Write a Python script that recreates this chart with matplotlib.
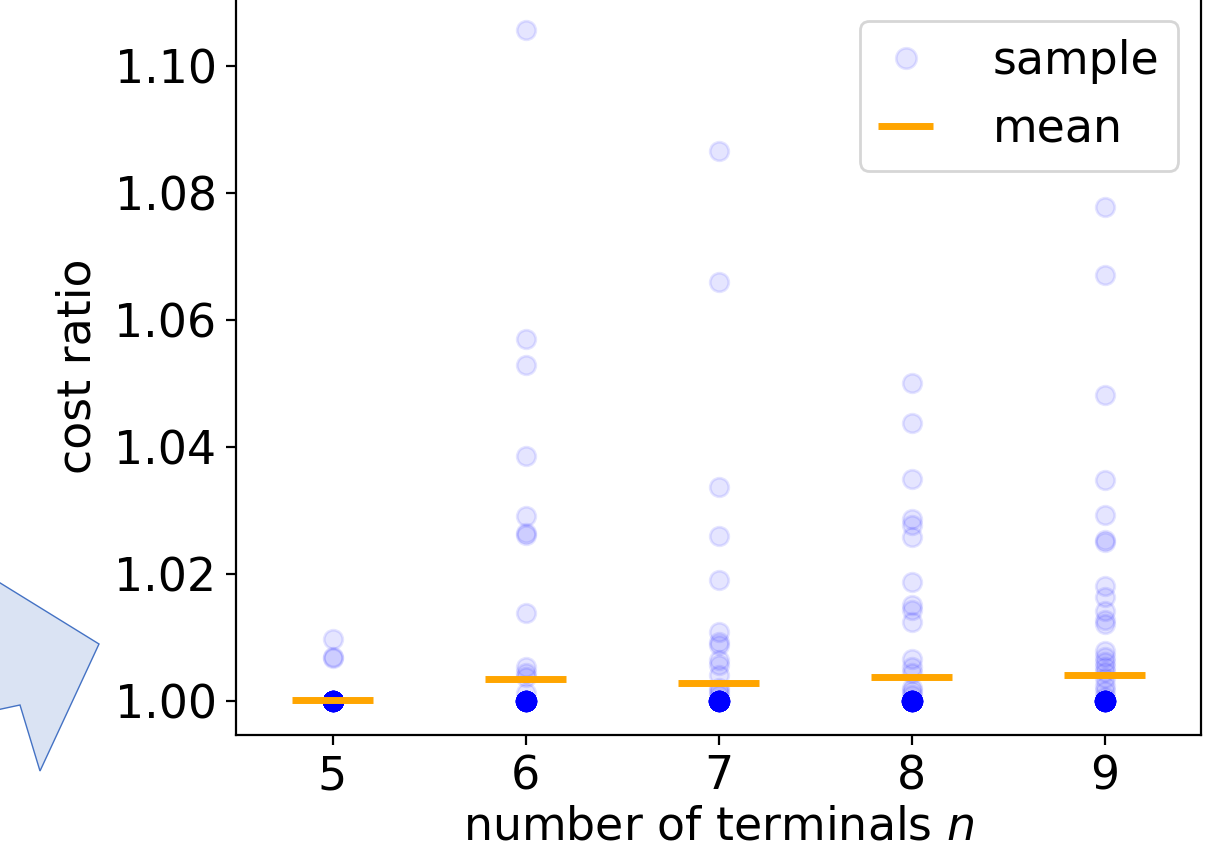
import numpy as np
import matplotlib.pyplot as plt
from matplotlib.patches import Polygon

terminals = [5, 6, 7, 8, 9]
samples = {
    5: [1.0097, 1.0070, 1.0067],
    6: [1.1057, 1.0570, 1.0529, 1.0386, 1.0291, 1.0264, 1.0262, 1.0139,
        1.0054, 1.0044, 1.0038, 1.0013],
    7: [1.0866, 1.0660, 1.0337, 1.0260, 1.0191, 1.0109, 1.0093, 1.0088,
        1.0065, 1.0057, 1.0041, 1.0020, 1.0015, 1.0009],
    8: [1.0501, 1.0438, 1.0350, 1.0287, 1.0277, 1.0258, 1.0188, 1.0151,
        1.0144, 1.0125, 1.0066, 1.0054, 1.0044, 1.0020, 1.0015, 1.0009],
    9: [1.0778, 1.0671, 1.0482, 1.0348, 1.0293, 1.0253, 1.0250, 1.0181,
        1.0164, 1.0141, 1.0128, 1.0121, 1.0078, 1.0070, 1.0062, 1.0054,
        1.0046, 1.0036, 1.0023, 1.0015, 1.0007],
}
n_optimal = [60, 50, 50, 50, 50]  # samples exactly at 1.00
means = [1.0002, 1.0035, 1.0028, 1.0038, 1.0041]

fig = plt.figure(figsize=(6.03, 4.305), dpi=200)
W, H = 1206, 861

# partial callout shape from the surrounding slide
pts = [(-50, 552), (99, 644), (40, 771), (20, 705), (-50, 720)]
fig.patches.append(Polygon([(x / W, 1 - y / H) for x, y in pts], closed=True,
                           transform=fig.transFigure, facecolor="#dae3f3",
                           edgecolor="#4472c4", linewidth=0.5, zorder=0))
fig.text(-0.012, 0.985, "NEW", color="#1e7145", fontweight="bold",
         fontsize=22, rotation=8, va="bottom", ha="left")

ax = fig.add_axes([236 / W, 126 / H, 965 / W, (861 - 126 + 2) / H])

for i, n in enumerate(terminals):
    ys = samples[n] + [1.0] * n_optimal[i]
    ax.plot([n] * len(ys), ys, "o", color="blue", alpha=0.1, markersize=6.7,
            label="sample" if i == 0 else None)
    ax.hlines(means[i], n - 0.21, n + 0.21, color="orange", linewidth=2.5,
              label="mean" if i == 0 else None, zorder=3)

ax.set_xlim(4.5, 9.5)
ax.set_ylim(0.99465, 1.1107)
ax.set_xticks(terminals)
ax.set_yticks(np.arange(1.00, 1.101, 0.02))
ax.set_yticklabels(["1.00", "1.02", "1.04", "1.06", "1.08", "1.10"])
ax.tick_params(labelsize=16.5)
ax.set_xlabel("number of terminals $n$", fontsize=16.5, labelpad=2)
ax.set_ylabel("cost ratio", fontsize=16.5, labelpad=5)
ax.legend(loc="upper right", fontsize=16.5, handlelength=1.2,
          handletextpad=1.3, markerscale=1.1)

fig.savefig("out.png", dpi=200)
